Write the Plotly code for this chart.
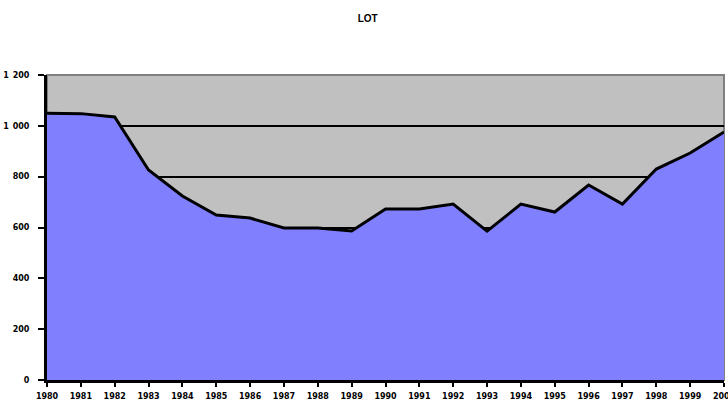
import plotly.graph_objects as go

years = list(range(1980, 2001))
values = [1050, 1048, 1035, 826, 724, 649, 637, 598, 598, 586, 673, 673, 692, 586, 692, 661, 767, 692, 830, 893, 976]
y_ticks = [0, 200, 400, 600, 800, 1000, 1200]
y_tick_labels = ["0", "200", "400", "600", "800", "1\u2002000", "1\u2002200"]

TICKFONT = dict(family="DejaVu Sans", size=8, color="black", weight="bold")

fig = go.Figure()
fig.add_trace(go.Scatter(
    x=years, y=values, mode="lines", fill="tozeroy",
    fillcolor="#8080FF", line=dict(color="black", width=3),
    hoverinfo="x+y", showlegend=False,
))

fig.update_layout(
    width=728, height=400,
    margin=dict(l=47, r=4, t=75, b=20),
    paper_bgcolor="white", plot_bgcolor="#C0C0C0",
    title=dict(text="<b>LOT</b>", x=0.505, xanchor="center", y=0.955, yanchor="middle",
               font=dict(family="Arial, Liberation Sans", size=10, color="black")),
    font=dict(family="Arial, Liberation Sans", size=8, color="black"),
    showlegend=False,
)
fig.update_xaxes(
    range=[1980, 2000], tickvals=years, ticktext=[f"<b>{y}</b>" for y in years],
    showgrid=False, showline=True, linecolor="black", linewidth=3,
    ticks="outside", ticklen=4, tickwidth=2, tickcolor="black",
    tickfont=TICKFONT, zeroline=False, mirror=False, ticklabelstandoff=2,
    automargin=False, ticklabeloverflow="allow",
)
fig.update_yaxes(
    range=[0, 1200], tickvals=y_ticks, ticktext=[f"<b>{t}</b>" for t in y_tick_labels],
    showgrid=True, gridcolor="black", gridwidth=2,
    showline=True, linecolor="black", linewidth=3,
    ticks="outside", ticklen=6, tickwidth=2, tickcolor="black",
    tickfont=TICKFONT, zeroline=False, ticklabelstandoff=7,
    automargin=False,
)
# gray top/right frame
fig.add_shape(type="rect", xref="paper", yref="paper", x0=0, x1=1, y0=0, y1=1,
              line=dict(color="#808080", width=2), layer="below")

fig.write_html("out.html", config={"displayModeBar": False},
               post_script="document.body.style.margin='0';")
